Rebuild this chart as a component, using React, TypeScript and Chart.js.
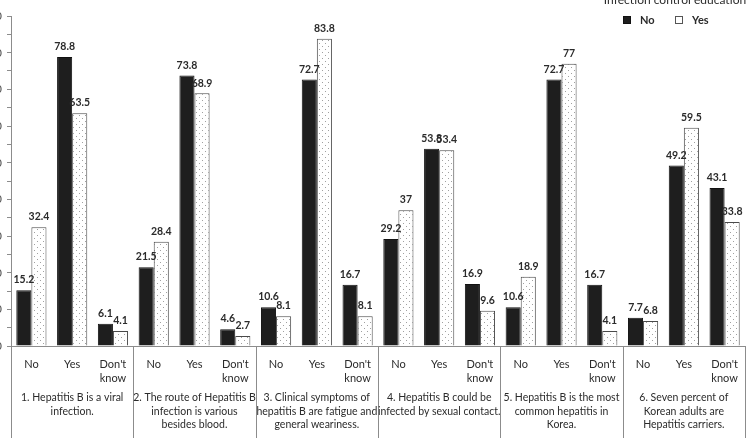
import React, { useEffect, useRef } from "react";
import { Chart, registerables } from "chart.js";

Chart.register(...registerables);

// Survey statements (two-level x axis: statement -> answer)
const statementLabels: string[][] = [
  ["1. Hepatitis B is a viral", "infection."],
  ["2. The route of Hepatitis B", "infection is various", "besides blood."],
  ["3. Clinical symptoms of", "hepatitis B are fatigue and", "general weariness."],
  ["4. Hepatitis B could be", "infected by sexual contact."],
  ["5. Hepatitis B is the most", "common hepatitis in", "Korea."],
  ["6. Seven percent of", "Korean adults are", "Hepatitis carriers."],
];
const answerLabels: (string | string[])[] = ["No", "Yes", ["Don't", "know"]];
const categories = statementLabels.flatMap(() => answerLabels);

// Percentages by infection control education status
const seriesNames = ["No", "Yes"];
const legendTitle = "Infection control education";
const noEducation = [15.2, 78.8, 6.1, 21.5, 73.8, 4.6, 10.6, 72.7, 16.7, 29.2, 53.8, 16.9, 10.6, 72.7, 16.7, 7.7, 49.2, 43.1];
const yesEducation = [32.4, 63.5, 4.1, 28.4, 68.9, 2.7, 8.1, 83.8, 8.1, 37, 53.4, 9.6, 18.9, 77, 4.1, 6.8, 59.5, 33.8];

const yMin = 0;
const yMax = 90;
const yStep = 5;

const FONT = "Lato, 'Open Sans', sans-serif";
const AXIS = "#8c8c8c";
const INK = "#2b2b2b";

function makeDots(ctx: CanvasRenderingContext2D): CanvasPattern | string {
  const tile = document.createElement("canvas");
  tile.width = 6;
  tile.height = 6;
  const g = tile.getContext("2d");
  if (!g) return "#fff";
  g.fillStyle = "#ffffff";
  g.fillRect(0, 0, 6, 6);
  g.fillStyle = "#a0a0a0";
  g.fillRect(1, 1, 1, 1);
  g.fillRect(4, 4, 1, 1);
  return ctx.createPattern(tile, "repeat") || "#fff";
}

// Separators and statement captions under the answer labels
const statementPlugin = {
  id: "statements",
  afterDraw(chart: any) {
    const { ctx, chartArea } = chart;
    const x = chart.scales.x;
    ctx.save();
    ctx.strokeStyle = AXIS;
    ctx.lineWidth = 1;
    for (let g = 0; g <= statementLabels.length; g++) {
      const px = Math.round(x.getPixelForValue(g * 3 - 0.5)) + 0.5;
      ctx.beginPath();
      ctx.moveTo(px, chartArea.bottom);
      ctx.lineTo(px, chart.height);
      ctx.stroke();
    }
    ctx.fillStyle = INK;
    ctx.font = `10.5px ${FONT}`;
    ctx.textAlign = "center";
    ctx.textBaseline = "middle";
    statementLabels.forEach((lines, g) => {
      const cx = x.getPixelForValue(g * 3 + 1);
      lines.forEach((line, i) => {
        ctx.fillText(line, cx, chartArea.bottom + 52 + i * 13.5);
      });
    });
    ctx.restore();
  },
};

// Value labels above each bar
const valuePlugin = {
  id: "values",
  afterDatasetsDraw(chart: any) {
    const { ctx } = chart;
    ctx.save();
    ctx.fillStyle = INK;
    ctx.font = `bold 10.5px ${FONT}`;
    ctx.textAlign = "center";
    ctx.textBaseline = "bottom";
    chart.data.datasets.forEach((ds: any, di: number) => {
      const meta = chart.getDatasetMeta(di);
      meta.data.forEach((bar: any, i: number) => {
        ctx.fillText(String(ds.data[i]), bar.x, bar.y - 5);
      });
    });
    ctx.restore();
  },
};

// Legend with title in the upper right corner
const legendPlugin = {
  id: "cornerLegend",
  afterDraw(chart: any) {
    const { ctx, chartArea } = chart;
    const right = chartArea.right;
    ctx.save();
    ctx.fillStyle = INK;
    ctx.font = `12px ${FONT}`;
    ctx.textAlign = "center";
    ctx.textBaseline = "alphabetic";
    ctx.fillText(legendTitle, right - 70, 4);

    ctx.font = `bold 11px ${FONT}`;
    ctx.textAlign = "left";
    ctx.textBaseline = "middle";
    const itemY = 20;
    const starts = [right - 122, right - 70];
    chart.data.datasets.forEach((ds: any, i: number) => {
      const sx = starts[i];
      ctx.fillStyle = i === 0 ? "#1e1e1e" : "#ffffff";
      ctx.fillRect(sx, itemY - 4, 8, 8);
      ctx.strokeStyle = i === 0 ? "#111" : "#555";
      ctx.lineWidth = 1;
      ctx.strokeRect(sx + 0.5, itemY - 3.5, 7, 7);
      ctx.fillStyle = INK;
      ctx.fillText(seriesNames[i], sx + 17, itemY);
    });
    ctx.restore();
  },
};

export default function App() {
  const ref = useRef<HTMLCanvasElement>(null);

  useEffect(() => {
    const canvas = ref.current;
    if (!canvas) return;
    const ctx = canvas.getContext("2d");
    if (!ctx) return;
    const dots = makeDots(ctx);

    const chart = new Chart(canvas, {
      type: "bar",
      data: {
        labels: categories,
        datasets: [
          {
            label: seriesNames[0],
            data: noEducation,
            backgroundColor: "#1e1e1e",
            borderColor: "#111111",
            borderWidth: 1,
            categoryPercentage: 0.74,
            barPercentage: 1,
          },
          {
            label: seriesNames[1],
            data: yesEducation,
            backgroundColor: dots as any,
            borderColor: "#4a4a4a",
            borderWidth: 1,
            categoryPercentage: 0.74,
            barPercentage: 1,
          },
        ],
      },
      options: {
        responsive: false,
        animation: false,
        layout: { padding: { top: 16, right: 6, left: 0, bottom: 0 } },
        plugins: {
          legend: { display: false },
          tooltip: { enabled: false },
        },
        scales: {
          x: {
            grid: { display: false },
            border: { display: true, color: AXIS },
            ticks: {
              color: INK,
              font: { family: FONT, size: 11, lineHeight: 1.3 },
              padding: 3,
              maxRotation: 0,
              autoSkip: false,
            },
            afterFit: (s: any) => {
              s.height = 92;
            },
          },
          y: {
            min: yMin,
            max: yMax,
            ticks: {
              stepSize: yStep,
              color: "#555",
              font: { family: FONT, size: 12 },
              padding: 5,
              callback: (v: any) => (Number(v) % 10 === 0 ? String(v) : ""),
            },
            grid: { drawOnChartArea: false, tickLength: 4, color: AXIS },
            border: { display: true, color: AXIS },
            afterFit: (s: any) => {
              s.width = 11;
            },
          },
        },
      },
      plugins: [statementPlugin, valuePlugin, legendPlugin],
    });

    return () => chart.destroy();
  }, []);

  return (
    <div
      style={{
        position: "fixed",
        left: 0,
        top: 0,
        width: 751,
        height: 438,
        overflow: "hidden",
        background: "#fff",
      }}
    >
      <canvas ref={ref} width={751} height={438} style={{ display: "block" }} />
    </div>
  );
}
